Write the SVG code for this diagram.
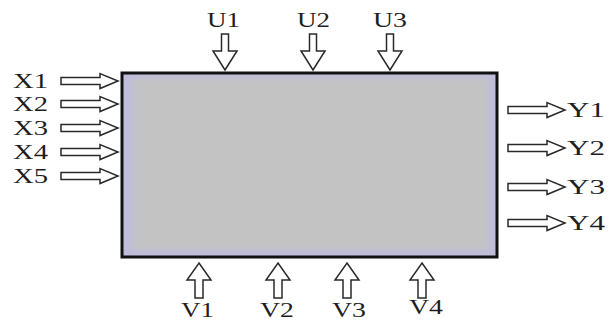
<svg xmlns="http://www.w3.org/2000/svg" width="615" height="323" viewBox="0 0 615 323">
<style>
.lbl{font-family:"Liberation Serif","Times New Roman",serif;font-size:20px;fill:#1e1e1e}
.arr{fill:#fff;stroke:#2a2a2a;stroke-width:1.5;stroke-linejoin:miter}
</style>
<defs>
<path id="ar" d="M0,-3.5 H39 V-7.5 L57,0 L39,7.5 V3.5 H0 Z"/>
<path id="ad" d="M-3.5,0 V17 H-12 L0,36 L12,17 H3.5 V0 Z"/>
<path id="au" d="M0,0 L12,17 H4 V35 H-4 V17 H-12 Z"/>
<filter id="soft" x="-5%" y="-5%" width="110%" height="110%"><feGaussianBlur stdDeviation="3"/></filter>
</defs>
<rect width="615" height="323" fill="#fff"/>
<g id="system">
<rect x="122" y="73" width="375" height="184" fill="#bfbcdb"/>
<rect x="133" y="78" width="355" height="172" fill="#c3c3c3" filter="url(#soft)"/>
<rect x="122" y="73" width="375" height="184" fill="none" stroke="#111" stroke-width="3"/>
</g>
<g id="connectors" class="arr">
<use href="#ar" x="61" y="81"/>
<use href="#ar" x="61" y="104"/>
<use href="#ar" x="61" y="128"/>
<use href="#ar" x="61" y="152"/>
<use href="#ar" x="61" y="176"/>
<use href="#ar" x="508" y="110"/>
<use href="#ar" x="508" y="148"/>
<use href="#ar" x="508" y="187"/>
<use href="#ar" x="508" y="223"/>
<use href="#ad" x="225" y="34"/>
<use href="#ad" x="313" y="34"/>
<use href="#ad" x="390" y="34"/>
<use href="#au" x="199" y="263"/>
<use href="#au" x="278" y="263"/>
<use href="#au" x="347" y="263"/>
<use href="#au" x="422" y="263"/>
</g>
<g id="inputs-x" class="lbl">
<text x="13" y="88" textLength="35" lengthAdjust="spacingAndGlyphs">X1</text>
<text x="13" y="111" textLength="35" lengthAdjust="spacingAndGlyphs">X2</text>
<text x="13" y="135" textLength="35" lengthAdjust="spacingAndGlyphs">X3</text>
<text x="13" y="159" textLength="35" lengthAdjust="spacingAndGlyphs">X4</text>
<text x="13" y="183" textLength="35" lengthAdjust="spacingAndGlyphs">X5</text>
</g>
<g id="outputs-y" class="lbl">
<text x="567" y="117" textLength="38" lengthAdjust="spacingAndGlyphs">Y1</text>
<text x="567" y="155" textLength="38" lengthAdjust="spacingAndGlyphs">Y2</text>
<text x="567" y="194" textLength="38" lengthAdjust="spacingAndGlyphs">Y3</text>
<text x="567" y="230" textLength="38" lengthAdjust="spacingAndGlyphs">Y4</text>
</g>
<g id="inputs-u" class="lbl">
<text x="207" y="27" textLength="33" lengthAdjust="spacingAndGlyphs">U1</text>
<text x="297" y="27" textLength="33" lengthAdjust="spacingAndGlyphs">U2</text>
<text x="373" y="27" textLength="34" lengthAdjust="spacingAndGlyphs">U3</text>
</g>
<g id="inputs-v" class="lbl">
<text x="181" y="317" textLength="33" lengthAdjust="spacingAndGlyphs">V1</text>
<text x="260" y="317" textLength="34" lengthAdjust="spacingAndGlyphs">V2</text>
<text x="332" y="317" textLength="34" lengthAdjust="spacingAndGlyphs">V3</text>
<text x="409" y="314" textLength="34" lengthAdjust="spacingAndGlyphs">V4</text>
</g>
</svg>
